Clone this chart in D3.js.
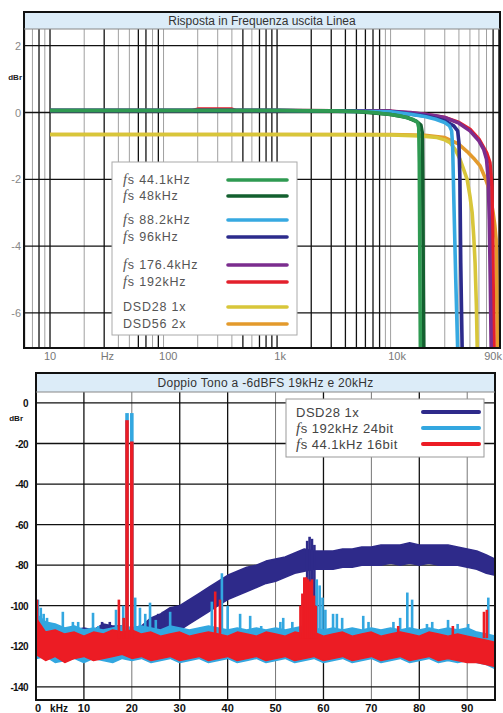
<!DOCTYPE html>
<html><head><meta charset="utf-8">
<script src="https://cdn.jsdelivr.net/npm/d3@7/dist/d3.min.js"></script>
<style>
html,body{margin:0;padding:0;background:#fff;}
svg{display:block;font-family:"Liberation Sans",Arial,sans-serif;}
</style></head>
<body>
<svg id="c" width="503" height="713"></svg>
<script>
// ---------------- DATA: top chart (frequency response) ----------------
const topTitle = "Risposta in Frequenza uscita Linea";
const topYTicks = [2, 0, -2, -4, -6];
const topXLabels = [[10, "10"], [32, "Hz"], [110, "100"], [1065, "1k"], [11400, "10k"], [80000, "90k"]];
const topSeriesNames = ["fs 44.1kHz", "fs 48kHz", "fs 88.2kHz", "fs 96kHz", "fs 176.4kHz", "fs 192kHz", "DSD28 1x", "DSD56 2x"];

const f441 = [10, 1000, 3000, 5000, 7000, 10000, 12000, 14000, 15500, 16500, 17300, 17700, 17900, 18100, 18300];
const db441 = [0.06, 0.06, 0.05, 0.03, 0.0, -0.06, -0.1, -0.16, -0.2, -0.25, -0.3, -0.45, -1.5, -4.5, -7.1];
const f48 = [10, 1000, 5000, 10000, 14000, 17000, 18500, 19000, 19200, 19400, 19600];
const db48 = [0.06, 0.06, 0.03, -0.06, -0.15, -0.27, -0.38, -0.6, -2, -5, -7.1];
const f882 = [10, 1000, 10000, 15000, 20000, 25000, 30000, 33000, 34500, 35200, 36000, 37500, 39000];
const db882 = [0.06, 0.06, 0.02, -0.05, -0.12, -0.2, -0.3, -0.4, -0.55, -1.0, -2.5, -5, -7.1];
const f96 = [10, 1000, 10000, 20000, 30000, 36000, 39000, 40000, 40800, 41500, 42700];
const db96 = [0.06, 0.06, 0.03, -0.1, -0.25, -0.4, -0.55, -0.9, -2, -4.5, -7.1];
const f1764 = [10, 1000, 10000, 15000, 20000, 25000, 30000, 40000, 50000, 60000, 66000, 70000, 72500, 74000, 75500, 77000];
const db1764 = [0.06, 0.06, 0.04, 0.0, -0.05, -0.1, -0.15, -0.32, -0.55, -0.85, -1.1, -1.4, -2.0, -3.2, -5, -7.1];
const f192 = [10, 180, 200, 400, 430, 1000, 10000, 20000, 30000, 40000, 50000, 60000, 70000, 75000, 78000, 79500, 80500, 81500];
const db192 = [0.06, 0.06, 0.1, 0.1, 0.06, 0.06, 0.04, -0.05, -0.15, -0.3, -0.5, -0.8, -1.2, -1.5, -2.2, -4, -6, -7.1];
const fDsd28 = [10, 1000, 10000, 18000, 25600, 30000, 33400, 37000, 40900, 44000, 47200, 50000, 52300, 54000, 55500, 57000, 58000];
const dbDsd28 = [-0.66, -0.66, -0.67, -0.7, -0.75, -0.82, -0.9, -1.1, -1.4, -1.7, -2.0, -2.5, -3.0, -3.7, -4.5, -5.8, -7.1];
const fDsd56 = [10, 1000, 10000, 20000, 30000, 40000, 47200, 55000, 61500, 67000, 72300, 76500, 80000, 83000, 85000, 86000, 87000];
const dbDsd56 = [-0.66, -0.66, -0.66, -0.68, -0.75, -0.95, -1.17, -1.4, -1.6, -1.9, -2.2, -2.6, -3.0, -3.4, -3.8, -5, -7.1];

// ---------------- DATA: bottom chart (two-tone spectrum) ----------------
const botTitle = "Doppio Tono a -6dBFS 19kHz e 20kHz";
const botYTicks = [0, -20, -40, -60, -80, -100, -120, -140];
const botXTicks = [10, 20, 30, 40, 50, 60, 70, 80, 90];
const botSeriesNames = ["DSD28 1x", "fs 192kHz 24bit", "fs 44.1kHz 16bit"];

const noiseKHz = [0,2,4,6,8,10,12,14,16,18,20,22,24,26,28,30,32,34,36,38,40,42,44,46,48,50,52,54,56,58,60,62,64,66,68,70,72,74,76,78,80,82,84,86,88,90,92,94,95.8];
const dsdHi = [-112,-113,-112,-113,-112,-111,-112,-109,-110,-110,-111,-110,-106,-104,-101,-100,-97,-94,-91,-88,-85,-83,-81,-80,-78,-77,-76,-74,-72,-73,-73,-73,-72,-72,-71,-71,-70,-70,-70,-69,-70,-70,-70,-70,-71,-72,-73,-75,-77];
const dsdLo = [-118,-118,-119,-118,-118,-117,-118,-117,-117,-117,-117,-117,-116,-114,-113,-112,-109,-106,-103,-100,-97,-95,-93,-91,-89,-88,-86,-84,-83,-82,-82,-82,-81,-81,-80,-80,-80,-79,-80,-79,-80,-79,-80,-80,-80,-81,-82,-84,-85];
const hiHi = [-104,-108,-109,-111,-110,-112,-111,-112,-111,-110,-111,-110,-111,-112,-110,-111,-112,-111,-110,-111,-112,-111,-112,-111,-112,-111,-112,-111,-110,-111,-112,-111,-112,-111,-112,-111,-112,-111,-112,-111,-112,-111,-112,-111,-112,-111,-113,-114,-115];
const hiLo = [-126,-125,-128,-127,-126,-128,-126,-127,-128,-126,-127,-126,-128,-127,-126,-128,-127,-126,-128,-127,-126,-128,-127,-126,-128,-127,-126,-128,-127,-126,-128,-127,-126,-128,-127,-126,-128,-127,-126,-128,-127,-126,-128,-127,-128,-127,-128,-129,-131];
const cdHi = [-106,-113,-112,-114,-113,-115,-113,-114,-112,-113,-112,-114,-113,-115,-114,-113,-115,-114,-113,-114,-115,-113,-114,-115,-113,-114,-115,-113,-114,-113,-115,-114,-113,-115,-114,-113,-115,-114,-113,-114,-115,-113,-114,-115,-114,-115,-116,-117,-118];
const cdLo = [-124,-127,-125,-128,-126,-125,-127,-126,-125,-124,-126,-125,-127,-126,-125,-127,-126,-125,-127,-126,-125,-127,-126,-125,-127,-126,-125,-127,-126,-125,-127,-126,-125,-127,-126,-125,-127,-126,-125,-127,-126,-125,-127,-126,-127,-128,-128,-129,-130];

const dsdSpikes = [[11,-113],[13.8,-108],[14.6,-109],[15.4,-108],[16.2,-110],[24.5,-106],[25.5,-104],[26.5,-103],[56.6,-68],[57.1,-66],[57.6,-67],[58.1,-70]];
const hiSpikes = [[0.4,-97],[1,-101],[1.6,-104],[2.3,-106],[3,-109],[5.6,-103],[7.7,-108],[8.8,-108],[11.9,-103.5],[13,-110],[16.7,-102],[18.2,-100],[20.7,-96],[21.7,-101],[22.8,-104],[23.8,-98.5],[25,-107],[28,-103],[36.7,-98],[38.8,-84],[40,-100],[42.6,-104],[44.7,-105],[47,-110],[51,-108],[51.6,-106],[53.5,-108],[58.6,-87],[59.2,-90],[59.8,-96],[60.4,-102],[62,-104],[62.8,-104],[63.9,-106],[68.3,-105],[69.4,-108],[74.6,-108],[76,-106],[77.5,-93.5],[78.5,-97],[81.6,-109],[82.7,-108],[86,-107],[88,-109],[90.2,-109],[94.4,-96]];
const cdSpikes = [[0.2,-97],[17.3,-97],[18.3,-106],[37.4,-93],[38.4,-97],[55.2,-100],[55.6,-94],[56,-86],[56.4,-86],[56.8,-87],[57.2,-88],[57.6,-87],[58,-95],[58.4,-100],[75.6,-110],[87,-110],[93.5,-103],[94.1,-102]];
const hiTones = [[19,-5],[20,-5]];
const cdTones = [[19,-8.5],[20,-19]];

// ---------------- DRAWING ----------------
const svg = d3.select("#c");

function fsText(sel, label, size, spacing) {
  if (label.startsWith("fs ")) {
    sel.append("tspan").attr("font-style", "italic").attr("font-family", "'Liberation Serif',serif").attr("font-size", size + 2).text("f");
    sel.append("tspan").text("s" + label.slice(2));
  } else sel.text(label);
  sel.attr("letter-spacing", spacing);
}

// ===== Top chart =====
{
  const L = 24, R = 500, T = 12, TB = 29, B = 348;
  const x = d3.scaleLog().domain([5.9, 92000]).range([L, R]);
  const y = d3.scaleLinear().domain([2.5, -7.05]).range([TB, B]);
  const g = svg.append("g");
  g.append("rect").attr("x", L).attr("y", T).attr("width", R - L).attr("height", TB - T).attr("fill", "#dcecf8");
  g.append("text").attr("x", (L + R) / 2).attr("y", T + 13).attr("text-anchor", "middle")
    .attr("font-size", 12).attr("fill", "#333").text(topTitle);

  const strong = new Set([8, 10, 30, 60, 70, 90, 500, 700, 800, 900, 1000, 2000, 3000, 4000, 5000, 6000, 7000, 8000, 80000, 90000]);
  const gridF = [];
  for (let dec = 1; dec <= 10000; dec *= 10) for (let m = 1; m <= 9; m++) {
    const f = m * dec; if (f > 5.9 && f < 92000) gridF.push(f);
  }
  gridF.forEach(f => {
    const s = strong.has(f);
    g.append("line").attr("x1", x(f)).attr("x2", x(f)).attr("y1", TB).attr("y2", B)
      .attr("stroke", s ? "#111" : "#a0a0a0").attr("stroke-width", s ? 1.3 : 1);
  });
  topYTicks.forEach(v => {
    g.append("line").attr("x1", L).attr("x2", R).attr("y1", y(v)).attr("y2", y(v)).attr("stroke", "#111").attr("stroke-width", 1.3);
    g.append("text").attr("x", 21).attr("y", y(v) + 4).attr("text-anchor", "end").attr("font-size", 11).attr("fill", "#888").text(v);
  });
  g.append("text").attr("x", 22).attr("y", 80).attr("text-anchor", "end").attr("font-size", 8).attr("font-weight", "bold").attr("fill", "#222").text("dBr");
  topXLabels.forEach(([f, t]) => {
    g.append("text").attr("x", x(f)).attr("y", 360).attr("text-anchor", "middle").attr("font-size", 11).attr("fill", "#777").text(t);
  });

  const clip = svg.append("clipPath").attr("id", "clipTop");
  clip.append("rect").attr("x", L).attr("y", TB).attr("width", R - L).attr("height", B - TB);
  const line = d3.line().x(d => x(d[0])).y(d => y(d[1]));
  const series = [
    [fDsd56, dbDsd56, "#e39a2c"],
    [fDsd28, dbDsd28, "#d8c63a"],
    [f192, db192, "#e3202c"],
    [f1764, db1764, "#7b2d8e"],
    [f96, db96, "#2c2b8c"],
    [f882, db882, "#37a9e1"],
    [f48, db48, "#13602f"],
    [f441, db441, "#2f9a52"]
  ];
  const cg = g.append("g").attr("clip-path", "url(#clipTop)");
  series.forEach(([fs, dbs, c]) => {
    cg.append("path").attr("d", line(fs.map((f, i) => [f, dbs[i]]))).attr("fill", "none")
      .attr("stroke", c).attr("stroke-width", 3.6).attr("stroke-linejoin", "round");
  });

  // legend
  const legColors = ["#2f9a52", "#13602f", "#37a9e1", "#2c2b8c", "#7b2d8e", "#e3202c", "#d8c63a", "#e39a2c"];
  const legY = [180, 196, 220, 237, 265, 282, 307, 324];
  g.append("rect").attr("x", 112).attr("y", 162).attr("width", 185).attr("height", 173).attr("fill", "#fff").attr("stroke", "#aaa").attr("stroke-width", 1);
  topSeriesNames.forEach((n, i) => {
    const t = g.append("text").attr("x", 123).attr("y", legY[i] + 4).attr("font-size", 12.5).attr("fill", "#555");
    fsText(t, n, 12.5, 0.8);
    g.append("line").attr("x1", 228).attr("x2", 287).attr("y1", legY[i]).attr("y2", legY[i]).attr("stroke", legColors[i]).attr("stroke-width", 3.6).attr("stroke-linecap", "round");
  });

  g.append("rect").attr("x", L).attr("y", T).attr("width", R - L).attr("height", B - T).attr("fill", "none").attr("stroke", "#111").attr("stroke-width", 2);
  g.append("line").attr("x1", L).attr("x2", R).attr("y1", TB).attr("y2", TB).attr("stroke", "#888").attr("stroke-width", 1);
}

// ===== Bottom chart =====
{
  const L = 36, R = 495, T = 373, TB = 392, B = 700;
  const x = d3.scaleLinear().domain([0, 95.8]).range([L, R]);
  const y = d3.scaleLinear().domain([5.4, -146.5]).range([TB, B]);
  const g = svg.append("g");
  g.append("rect").attr("x", L).attr("y", T).attr("width", R - L).attr("height", TB - T).attr("fill", "#dcecf8");
  g.append("text").attr("x", (L + R) / 2).attr("y", T + 14).attr("text-anchor", "middle")
    .attr("font-size", 12).attr("letter-spacing", 0.3).attr("fill", "#333").text(botTitle);

  const darkX = new Set([10, 30, 40, 60, 80]);
  botXTicks.forEach(k => {
    const d = darkX.has(k);
    g.append("line").attr("x1", x(k)).attr("x2", x(k)).attr("y1", TB).attr("y2", B)
      .attr("stroke", d ? "#111" : "#777").attr("stroke-width", d ? 1.3 : 1);
    g.append("text").attr("x", x(k)).attr("y", 712).attr("text-anchor", "middle").attr("font-size", 11).attr("font-weight", "bold").attr("fill", "#111").text(k);
  });
  g.append("text").attr("x", 38).attr("y", 712).attr("text-anchor", "middle").attr("font-size", 11).attr("font-weight", "bold").attr("fill", "#111").text("0");
  g.append("text").attr("x", 59).attr("y", 712).attr("text-anchor", "middle").attr("font-size", 10).attr("font-weight", "bold").attr("fill", "#111").text("kHz");
  botYTicks.forEach(v => {
    g.append("line").attr("x1", L).attr("x2", R).attr("y1", y(v)).attr("y2", y(v)).attr("stroke", "#111").attr("stroke-width", 1.3);
    g.append("text").attr("x", 28).attr("y", y(v) + 4).attr("text-anchor", "end").attr("font-size", 10).attr("font-weight", "bold").attr("letter-spacing", -0.6).attr("fill", "#111").text(v);
  });
  g.append("text").attr("x", 23).attr("y", 421).attr("text-anchor", "end").attr("font-size", 8).attr("font-weight", "bold").attr("fill", "#111").text("dBr");

  const clip = svg.append("clipPath").attr("id", "clipBot");
  clip.append("rect").attr("x", L).attr("y", TB).attr("width", R - L).attr("height", B - TB);
  const cg = g.append("g").attr("clip-path", "url(#clipBot)");
  const area = d3.area().x(d => x(d[0])).y0(d => y(d[2])).y1(d => y(d[1]));
  const bands = [
    [dsdHi, dsdLo, dsdSpikes, [], "#2e2a8a"],
    [hiHi, hiLo, hiSpikes, hiTones, "#33a7e0"],
    [cdHi, cdLo, cdSpikes, cdTones, "#ec1c24"]
  ];
  bands.forEach(([hi, lo, spikes, tones, c]) => {
    cg.append("path").attr("d", area(noiseKHz.map((k, i) => [k, hi[i], lo[i]])))
      .attr("fill", c).attr("stroke", c).attr("stroke-width", 1.5).attr("stroke-linejoin", "round");
    spikes.forEach(([k, v]) => {
      cg.append("rect").attr("x", x(k) - 1.3).attr("width", 2.6).attr("y", y(v)).attr("height", y(-116) - y(v)).attr("fill", c);
    });
    tones.forEach(([k, v]) => {
      cg.append("rect").attr("x", x(k) - 1.8).attr("width", 3.6).attr("y", y(v)).attr("height", y(-116) - y(v)).attr("fill", c);
    });
  });

  // legend
  const legColors = ["#2e2a8a", "#33a7e0", "#ec1c24"];
  const legY = [412, 428, 444];
  g.append("rect").attr("x", 286).attr("y", 399).attr("width", 198).attr("height", 58).attr("fill", "#fff").attr("stroke", "#999").attr("stroke-width", 1);
  botSeriesNames.forEach((n, i) => {
    const t = g.append("text").attr("x", 296).attr("y", legY[i] + 5).attr("font-size", 13).attr("fill", "#444");
    fsText(t, n, 13, 0.5);
    g.append("line").attr("x1", 423).attr("x2", 479).attr("y1", legY[i]).attr("y2", legY[i]).attr("stroke", legColors[i]).attr("stroke-width", 4).attr("stroke-linecap", "round");
  });

  g.append("rect").attr("x", L).attr("y", T).attr("width", R - L).attr("height", B - T).attr("fill", "none").attr("stroke", "#111").attr("stroke-width", 2);
  g.append("line").attr("x1", L).attr("x2", R).attr("y1", TB).attr("y2", TB).attr("stroke", "#888").attr("stroke-width", 1);
}
</script>
</body></html>
